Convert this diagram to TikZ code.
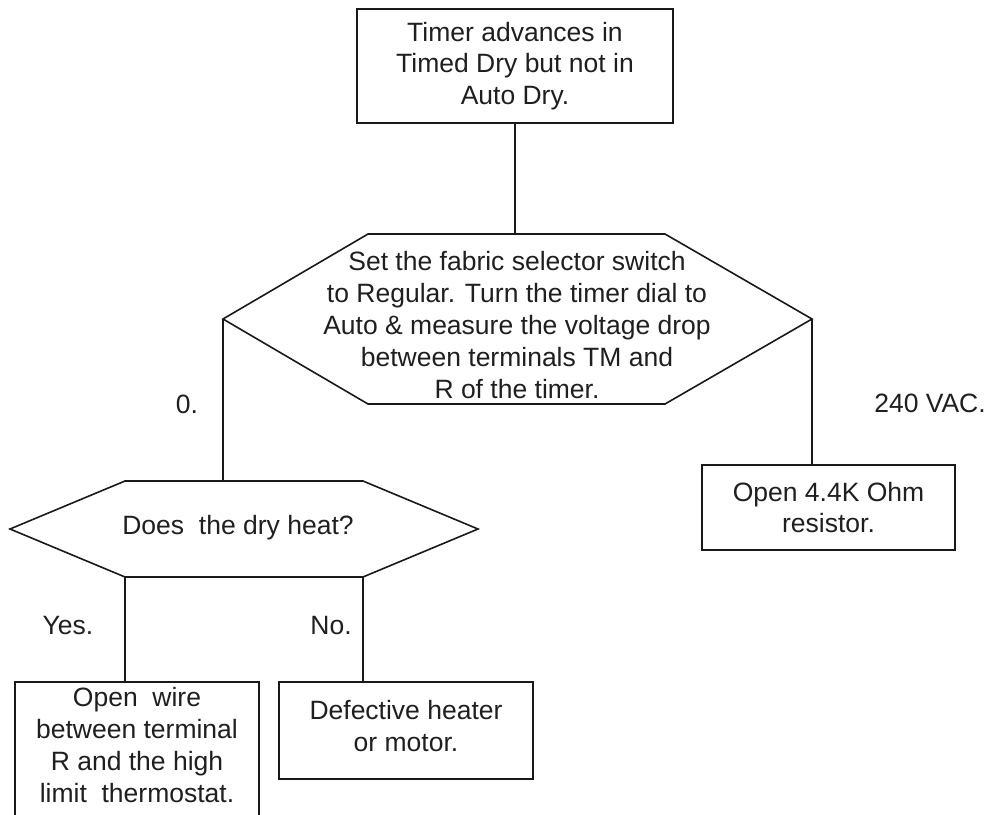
\documentclass[tikz,border=0pt]{standalone}
\usepackage{fontspec}
\setmainfont{Liberation Sans}
\begin{document}
\begin{tikzpicture}[x=1pt,y=-1pt,
  ln/.style={line width=1.6pt, draw=black!90},
  txt/.style={align=center, inner sep=0pt, text=black!88,
    font=\fontsize{26.5}{31.8}\selectfont},
  rbox/.style={ln, txt, minimum width=#1},
]
\useasboundingbox (0,0) rectangle (990,814);
\clip (0,0) rectangle (990,814);
% top box
\node[rbox=316pt, minimum height=114pt] (b1) at (515,66)
  {Timer advances in\\Timed Dry but not in\\Auto Dry.};
% hexagon 1
\coordinate (h1l) at (223,319);
\coordinate (h1tl) at (368,234);
\coordinate (h1top) at (515,234);
\coordinate (h1tr) at (665,234);
\coordinate (h1r) at (812,319);
\coordinate (h1br) at (665,404);
\coordinate (h1bl) at (368,404);
\draw[ln, line join=miter] (h1l) -- (h1tl) -- (h1tr) -- (h1r) -- (h1br) -- (h1bl) -- cycle;
\node[txt] (t1) at (517,325)
  {Set the fabric selector switch\\to Regular. Turn the timer dial to\\Auto \& measure the voltage drop\\between terminals TM and\\R of the timer.};
% hexagon 2
\coordinate (h2l) at (10,529);
\coordinate (h2tl) at (125,481);
\coordinate (h2tr) at (363,481);
\coordinate (h2r) at (478,529);
\coordinate (h2br) at (363,577);
\coordinate (h2bl) at (125,577);
\draw[ln, line join=miter] (h2l) -- (h2tl) -- (h2tr) -- (h2r) -- (h2br) -- (h2bl) -- cycle;
\node[txt] (t2) at (238,528) {Does\ \ the dry heat?};
% right box
\node[rbox=253pt, minimum height=85pt] (b4) at (828.5,507.5)
  {Open 4.4K Ohm\\resistor.};
% defective box
\node[rbox=254pt, minimum height=97pt] (b6) at (406,730.5) {};
\node[txt] (t6) at (406,726) {Defective heater\\or motor.};
% left bottom box (runs off the page)
\coordinate (b5tl) at (15,682);
\coordinate (b5tr) at (259,682);
\draw[ln] (15,840) -- (b5tl) -- (b5tr) -- (259,840);
\node[txt] (t5) at (137,745)
  {Open\ \ wire\\between terminal\\R and the high\\limit\ \ thermostat.};
% connectors
\draw[ln] (b1.south) -- (h1top);
\draw[ln] (h1l) -- (h1l |- h2tl);
\draw[ln] (h1r) -- (h1r |- b4.north);
\draw[ln] (h2bl) -- (b5tl -| h2bl);
\draw[ln] (h2br) -- (h2br |- b6.north);
% labels
\node[txt] (l0) at (187,404) {0.};
\node[txt] (l240) at (930,403) {240 VAC.};
\node[txt] (lyes) at (68,626) {Yes.};
\node[txt] (lno) at (331,626) {No.};
\end{tikzpicture}
\end{document}
